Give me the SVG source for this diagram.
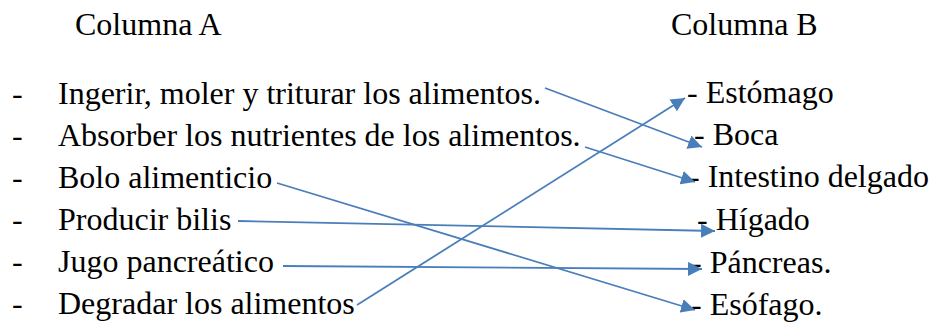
<svg xmlns="http://www.w3.org/2000/svg" width="933" height="323" viewBox="0 0 933 323" font-family="'Liberation Serif', 'Times New Roman', serif" font-size="32">
<style>
.t{font-family:'Liberation Serif','Times New Roman',serif;font-size:32px;fill:#000}
.c line{stroke:#4A7EBB;stroke-width:1.8;fill:none;marker-end:url(#ah)}
</style>
<defs>
<marker id="ah" markerUnits="userSpaceOnUse" markerWidth="14" markerHeight="14" refX="14" refY="7" orient="auto" viewBox="0 0 14 14">
<path d="M0,0 L14,7 L0,14 z" fill="#4A7EBB"/>
</marker>
</defs>
<rect width="933" height="323" fill="#fff"/>
<g id="headers" class="t">
<text x="75" y="35">Columna A</text>
<text x="671" y="35">Columna B</text>
</g>
<g id="colA" class="t">
<g id="a1"><text x="12" y="104">-</text><text x="58" y="104">Ingerir, moler y triturar los alimentos.</text></g>
<g id="a2"><text x="12" y="146">-</text><text x="58" y="146">Absorber los nutrientes de los alimentos.</text></g>
<g id="a3"><text x="12" y="188">-</text><text x="58" y="188">Bolo alimenticio</text></g>
<g id="a4"><text x="12" y="230">-</text><text x="58" y="230">Producir bilis</text></g>
<g id="a5"><text x="12" y="272">-</text><text x="58" y="272">Jugo pancreático</text></g>
<g id="a6"><text x="12" y="314">-</text><text x="58" y="314">Degradar los alimentos</text></g>
</g>
<g id="colB" class="t">
<g id="b1"><text x="687" y="103">- Estómago</text></g>
<g id="b2"><text x="694" y="145">- Boca</text></g>
<g id="b3"><text x="689" y="187">- Intestino delgado</text></g>
<g id="b4"><text x="697" y="230">- Hígado</text></g>
<g id="b5"><text x="691" y="273">- Páncreas.</text></g>
<g id="b6"><text x="691" y="315">- Esófago.</text></g>
</g>
<g id="connectors" class="c">
<line x1="545" y1="88" x2="702" y2="147"/>
<line x1="585" y1="147" x2="695" y2="182"/>
<line x1="357" y1="305" x2="685" y2="98"/>
<line x1="277" y1="183" x2="695" y2="310"/>
<line x1="238" y1="221" x2="715" y2="231"/>
<line x1="283" y1="266" x2="702" y2="269"/>
</g>
</svg>
